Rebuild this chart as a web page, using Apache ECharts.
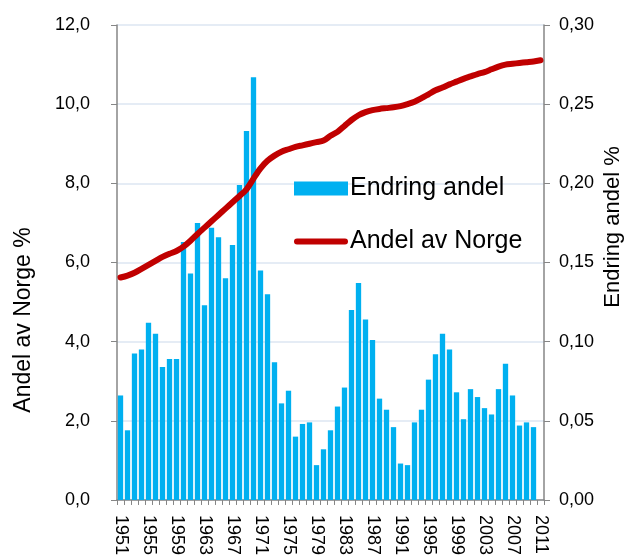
<!DOCTYPE html>
<html>
<head>
<meta charset="utf-8">
<script src="https://cdn.jsdelivr.net/npm/echarts@6/dist/echarts.min.js"></script>
<style>
  html, body { margin: 0; padding: 0; background: #fff; }
  #chart { width: 640px; height: 558px; }
</style>
</head>
<body>
<div id="chart"></div>
<script>
// years 1951-2011
const years = [];
for (let y = 1951; y <= 2011; y++) years.push(String(y));

// Endring andel (right axis), no value for 2011
const endringAndel = [
  0.066, 0.044, 0.0925, 0.095, 0.112, 0.105, 0.084, 0.089, 0.089, 0.163,
  0.143, 0.175, 0.123, 0.172, 0.166, 0.140, 0.161, 0.199, 0.233, 0.267,
  0.145, 0.130, 0.087, 0.061, 0.069, 0.040, 0.048, 0.049, 0.022, 0.032,
  0.044, 0.059, 0.071, 0.120, 0.137, 0.114, 0.101, 0.064, 0.057, 0.046,
  0.023, 0.022, 0.049, 0.057, 0.076, 0.092, 0.105, 0.095, 0.068, 0.051,
  0.070, 0.065, 0.058, 0.054, 0.070, 0.086, 0.066, 0.047, 0.049, 0.046,
  null
];

// Andel av Norge (left axis)
const andelNorge = [
  5.62, 5.67, 5.74, 5.84, 5.94, 6.04, 6.14, 6.22, 6.29, 6.40,
  6.55, 6.72, 6.88, 7.04, 7.20, 7.36, 7.52, 7.68, 7.85, 8.12,
  8.38, 8.57, 8.70, 8.80, 8.86, 8.92, 8.96, 9.00, 9.04, 9.08,
  9.20, 9.30, 9.45, 9.60, 9.72, 9.80, 9.85, 9.88, 9.90, 9.92,
  9.95, 10.00, 10.06, 10.15, 10.25, 10.35, 10.42, 10.50, 10.57, 10.64,
  10.70, 10.76, 10.81, 10.88, 10.95, 11.00, 11.02, 11.04, 11.06, 11.08,
  11.11
];

const font = '"Liberation Sans", Arial, sans-serif';
const axisGray = '#868686';
const gridColor = '#dce6f2';

const chart = echarts.init(document.getElementById('chart'));

const option = {
  animation: false,
  textStyle: { fontFamily: font },
  grid: { left: 117, right: 96, top: 25, bottom: 58 },
  legend: {
    orient: 'vertical',
    left: 289,
    top: 171,
    itemWidth: 54,
    itemHeight: 14,
    itemGap: 28,
    textStyle: { fontSize: 25, color: '#000', fontFamily: font, padding: [0, 0, 0, -3] },
    data: [
      { name: 'Endring andel', icon: 'rect' },
      { name: 'Andel av Norge', icon: 'path://M3,0 L51,0 A3,3 0 0 1 51,6 L3,6 A3,3 0 0 1 3,0 Z' }
    ]
  },
  graphic: [
    {
      type: 'text',
      x: 24, y: 320,
      rotation: Math.PI / 2,
      style: {
        text: 'Andel av Norge %',
        fontSize: 23, fontFamily: font, fill: '#000',
        align: 'center', verticalAlign: 'middle'
      }
    },
    {
      type: 'text',
      x: 613, y: 227,
      rotation: Math.PI / 2,
      style: {
        text: 'Endring andel %',
        fontSize: 22, fontFamily: font, fill: '#000',
        align: 'center', verticalAlign: 'middle'
      }
    }
  ],
  xAxis: {
    type: 'category',
    data: years,
    boundaryGap: true,
    axisLine: { lineStyle: { color: axisGray, width: 1.5 } },
    axisTick: { show: true, interval: 0, length: 5, lineStyle: { color: axisGray } },
    axisLabel: {
      interval: 3,
      rotate: -90,
      margin: 15,
      fontSize: 18,
      color: '#000',
      fontFamily: font
    },
    splitLine: { show: false }
  },
  yAxis: [
    {
      type: 'value',
      min: 0, max: 12, interval: 2,
      axisLine: { show: true, lineStyle: { color: axisGray, width: 1.5 } },
      axisTick: { show: true, length: 6, lineStyle: { color: axisGray } },
      axisLabel: {
        fontSize: 18, color: '#000', margin: 27, fontFamily: font,
        formatter: v => v.toFixed(1).replace('.', ',')
      },
      splitLine: { show: true, lineStyle: { color: gridColor, width: 1.5 } }
    },
    {
      type: 'value',
      position: 'right',
      min: 0, max: 0.3, interval: 0.05,
      axisLine: { show: true, lineStyle: { color: axisGray, width: 1.5 } },
      axisTick: { show: true, length: 6, lineStyle: { color: axisGray } },
      axisLabel: {
        fontSize: 18, color: '#000', margin: 15, fontFamily: font,
        formatter: v => v.toFixed(2).replace('.', ',')
      },
      splitLine: { show: false }
    }
  ],
  series: [
    {
      name: 'Endring andel',
      type: 'bar',
      yAxisIndex: 1,
      data: endringAndel,
      barCategoryGap: '24%',
      itemStyle: { color: '#00B0F0' },
      z: 2
    },
    {
      name: 'Andel av Norge',
      type: 'line',
      yAxisIndex: 0,
      data: andelNorge,
      smooth: 0.3,
      symbol: 'none',
      lineStyle: { color: '#C00000', width: 6, cap: 'round' },
      itemStyle: { color: '#C00000' },
      z: 3
    }
  ]
};

chart.setOption(option);
</script>
</body>
</html>
